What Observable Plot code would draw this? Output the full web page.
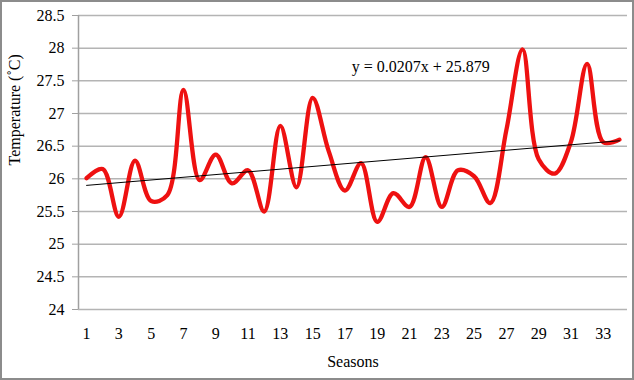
<!DOCTYPE html>
<html>
<head>
<meta charset="utf-8">
<script src="https://cdn.jsdelivr.net/npm/d3@7"></script>
<script src="https://cdn.jsdelivr.net/npm/@observablehq/plot@0.6"></script>
<style>
  html, body { margin: 0; padding: 0; background: #fff; }
  #wrap { position: relative; width: 634px; height: 380px; overflow: hidden; }
  #border { position: absolute; left: 0; top: 0; width: 634px; height: 380px; box-sizing: border-box; border: 2px solid #8c8c8c; pointer-events: none; }
  #wrap svg, #wrap svg text { font-family: "Liberation Serif", "Times New Roman", serif !important; }
</style>
</head>
<body>
<div id="wrap"><div id="border"></div></div>
<script>
const seasons = [1,2,3,4,5,6,7,8,9,10,11,12,13,14,15,16,17,18,19,20,21,22,23,24,25,26,27,28,29,30,31,32,33,34];
const temps = [26.01, 26.15, 25.42, 26.28, 25.66, 25.75, 27.36, 25.98, 26.37, 25.93, 26.13, 25.50, 26.81, 25.87, 27.24, 26.42, 25.82, 26.24, 25.34, 25.78, 25.57, 26.33, 25.57, 26.13, 26.04, 25.63, 26.75, 27.98, 26.30, 26.08, 26.57, 27.76, 26.56, 26.60];
const xTicks = [1,3,5,7,9,11,13,15,17,19,21,23,25,27,29,31,33];
const yTicks = [24, 24.5, 25, 25.5, 26, 26.5, 27, 27.5, 28, 28.5];
const trendSlope = 0.0207;
const trendIntercept = 25.879;
const trendLabel = "y = 0.0207x + 25.879";
const xTitle = "Seasons";
const yTitle = "Temperature (\u02DAC)";

const data = seasons.map((s, i) => ({season: s, temp: temps[i]}));
const trend = [seasons[0], seasons[seasons.length - 1]].map(s => ({season: s, temp: trendSlope * s + trendIntercept}));

const chart = Plot.plot({
  width: 634,
  height: 380,
  marginLeft: 78,
  marginRight: 7,
  marginTop: 15,
  marginBottom: 71,
  style: {fontSize: "16px", color: "#000", background: "transparent"},
  x: {domain: [0.5, 34.5], ticks: xTicks},
  y: {domain: [24, 28.5], ticks: yTicks},
  marks: [
    Plot.gridY(yTicks, {stroke: "#b4b4b4", strokeOpacity: 1, strokeWidth: 1.5}),
    Plot.ruleX([0.5], {stroke: "#a0a0a0", strokeWidth: 1.5}),
    Plot.axisY({ticks: yTicks, tickFormat: d => String(d), tickSize: 6, tickPadding: 8, stroke: "#a0a0a0", label: null, fontSize: 16}),
    Plot.axisX({ticks: xTicks, tickFormat: d => String(d), tickSize: 0, tickPadding: 18, label: null, fontSize: 16}),
    Plot.line(data, {x: "season", y: "temp", stroke: "#ee1111", strokeWidth: 4.3, curve: "catmull-rom"}),
    Plot.line(trend, {x: "season", y: "temp", stroke: "#000", strokeWidth: 1}),
    Plot.text([trendLabel], {x: 21.7, y: 27.72, text: d => d, fontSize: 16, fill: "#000"}),
    Plot.text([xTitle], {frameAnchor: "bottom", dy: 57, text: d => d, fontSize: 16, fill: "#000"}),
    Plot.text([yTitle], {frameAnchor: "left", dx: -64, dy: 3, rotate: -90, text: d => d, fontSize: 16, fill: "#000"})
  ]
});
document.getElementById("wrap").insertBefore(chart, document.getElementById("border"));
</script>
</body>
</html>
